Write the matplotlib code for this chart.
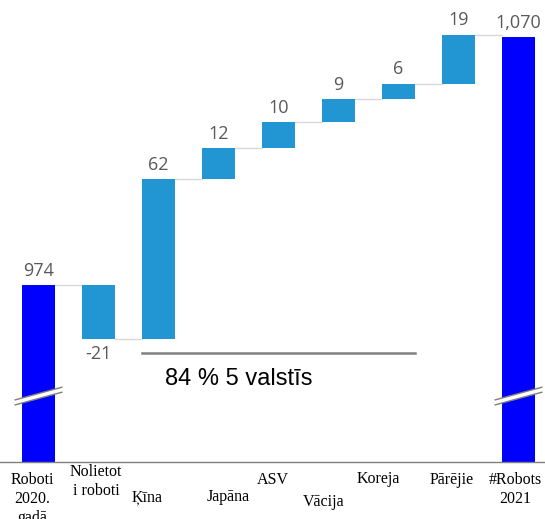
import matplotlib
matplotlib.use("Agg")
import matplotlib.pyplot as plt
from matplotlib.patches import Polygon
from matplotlib.transforms import blended_transform_factory
import numpy as np

# Robot stock, thousands: opening total, yearly changes, closing total
categories = ["Roboti\n2020.\ngadā", "Nolietot\ni roboti", "Ķīna", "Japāna", "ASV",
              "Vācija", "Koreja", "Pārējie", "#Robots\n2021"]
start_total = 974
changes = [-21, 62, 12, 10, 9, 6, 19]
end_total = 1070
share_text = "84 % 5 valstīs"

TOTAL_COLOR = "#0000FF"
STEP_COLOR = "#2196D2"
CONNECT_COLOR = "#D9D9D9"
VALUE_COLOR = "#595959"

W, H = 545, 519
fig = plt.figure(figsize=(W / 100, H / 100), dpi=100)
ax = fig.add_axes([0.0, 1 - 462 / H, 1.0, 462 / H])

x = np.arange(len(categories))
bar_w = 0.55

# running totals for the floating bars
levels = start_total + np.cumsum([0] + changes)
ax.bar(x[0], start_total, width=bar_w, color=TOTAL_COLOR, zorder=2)
ax.bar(x[-1], end_total, width=bar_w, color=TOTAL_COLOR, zorder=2)
for i, d in enumerate(changes, start=1):
    lo = min(levels[i - 1], levels[i])
    ax.bar(x[i], abs(d), bottom=lo, width=bar_w, color=STEP_COLOR, zorder=2)

# thin connectors between neighbouring bars
for i in range(len(categories) - 1):
    ax.plot([x[i] + bar_w / 2, x[i + 1] - bar_w / 2], [levels[i]] * 2,
            color=CONNECT_COLOR, lw=1.0, zorder=1)

ax.set_xlim(-38.5 / 60, (W - 38.5) / 60)
ymin = 905.5
ax.set_ylim(ymin, ymin + 462 / 2.583)

# value labels
label_font = dict(family=["Open Sans", "DejaVu Sans"], fontsize=13, color=VALUE_COLOR)
ax.annotate(f"{start_total:,}", (x[0], start_total), xytext=(0, 4),
            textcoords="offset points", ha="center", va="bottom", **label_font)
ax.annotate(f"{end_total:,}", (x[-1], end_total), xytext=(0, 4),
            textcoords="offset points", ha="center", va="bottom", **label_font)
for i, d in enumerate(changes, start=1):
    if d >= 0:
        ax.annotate(f"{d:,}", (x[i], levels[i]), xytext=(0, 4),
                    textcoords="offset points", ha="center", va="bottom", **label_font)
    else:
        ax.annotate(f"{d:,}", (x[i], levels[i]), xytext=(0, -4),
                    textcoords="offset points", ha="center", va="top", **label_font)

# axis break marks on the two total bars
def break_mark(xc, yc):
    half = 0.40
    slope = 13 / 2.583 / 2
    gap = 5 / 2.583
    top = [(xc - half, yc - slope), (xc + half, yc + slope)]
    bot = [(xc - half, yc - slope - gap), (xc + half, yc + slope - gap)]
    poly = Polygon([top[0], top[1], bot[1], bot[0]], closed=True,
                   facecolor="white", edgecolor="none", zorder=3)
    ax.add_patch(poly)
    for seg in (top, bot):
        ax.plot(*zip(*seg), color="#7F7F7F", lw=1.0, zorder=4, solid_capstyle="butt")

break_mark(x[0], 932)
break_mark(x[-1], 932)

# bracket line under the five country bars
y_share = 947.7
ax.plot([x[2] - bar_w / 2, x[6] + bar_w / 2], [y_share, y_share],
        color="#808080", lw=1.8, zorder=2)
ax.text(3.33, y_share - 6.0, share_text, ha="center", va="top",
        family=["Liberation Sans", "DejaVu Sans"], fontsize=17, color="black")

# axis styling
for s in ("left", "right", "top"):
    ax.spines[s].set_visible(False)
ax.spines["bottom"].set_color("#808080")
ax.spines["bottom"].set_linewidth(1.0)
ax.set_xticks([])
ax.set_yticks([])

# staggered category labels (x shift in category units, first-line centre in px from top)
label_dx = [-0.11, -0.04, -0.19, 0.16, -0.10, -0.24, -0.34, -0.11, -0.06]
label_y = [478, 470, 495, 495, 478, 500, 477, 478, 478]
line_step = 19
trans = blended_transform_factory(ax.transData, fig.transFigure)
for i, (lab, dx, yp) in enumerate(zip(categories, label_dx, label_y)):
    for k, line in enumerate(lab.split("\n")):
        ax.text(x[i] + dx, 1 - (yp + k * line_step) / H, line, transform=trans,
                ha="center", va="center_baseline",
                family=["Liberation Serif", "DejaVu Serif"], fontsize=11.5,
                color="black", clip_on=False)

fig.savefig("out.png", dpi=100)
